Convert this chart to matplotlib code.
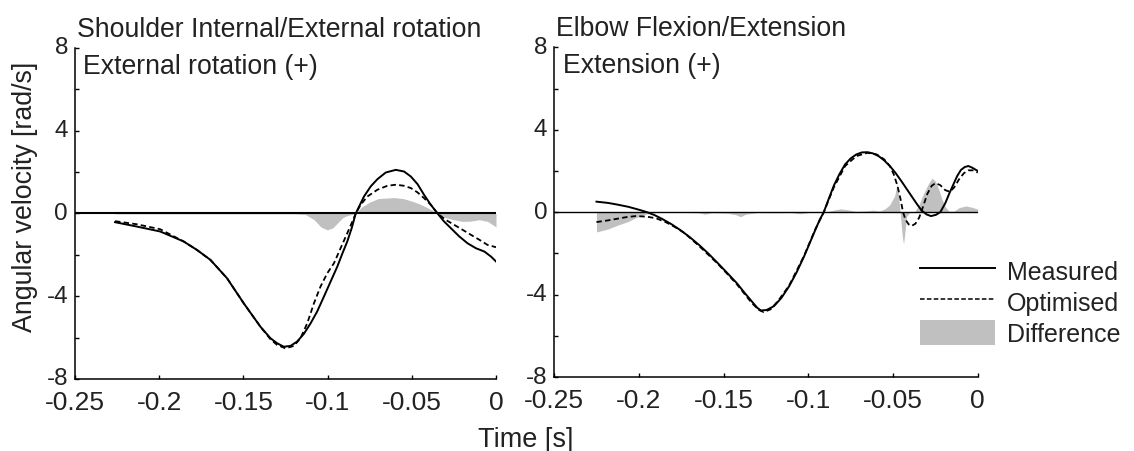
import matplotlib
matplotlib.use("Agg")
import matplotlib.pyplot as plt
from matplotlib.lines import Line2D
from matplotlib.patches import Patch
from matplotlib.transforms import ScaledTranslation

plt.rcParams['font.family'] = ['Liberation Sans', 'DejaVu Sans']
plt.rcParams['axes.unicode_minus'] = False

TXT = '#222222'
GREY = '#c0c0c0'

# Shoulder internal/external rotation (left panel)
sh_meas_t = [-0.2262, -0.2133, -0.1994, -0.1855, -0.1776, -0.1696, -0.1597, -0.1498, -0.1399,
             -0.1339, -0.1300, -0.1260, -0.1220, -0.1181, -0.1141, -0.1101, -0.1062, -0.1022,
             -0.0982, -0.0942, -0.0913, -0.0883, -0.0857, -0.0833, -0.0808, -0.0784, -0.0744,
             -0.0704, -0.0655, -0.0595, -0.0546, -0.0506, -0.0466, -0.0427, -0.0387, -0.0347,
             -0.0308, -0.0268, -0.0218, -0.0169, -0.0119, -0.0069, -0.0030, 0.0]
sh_meas_v = [-0.42, -0.63, -0.87, -1.35, -1.76, -2.24, -3.13, -4.34, -5.47,
             -6.03, -6.27, -6.44, -6.40, -6.19, -5.82, -5.31, -4.74, -4.02,
             -3.29, -2.56, -1.95, -1.35, -0.71, 0.00, 0.42, 0.82, 1.31,
             1.66, 1.98, 2.11, 2.03, 1.79, 1.42, 0.90, 0.42, 0.00,
             -0.39, -0.71, -1.11, -1.44, -1.68, -1.84, -2.08, -2.32]

sh_opt_t = [-0.2262, -0.2133, -0.1994, -0.1855, -0.1776, -0.1696, -0.1597, -0.1498, -0.1399,
            -0.1339, -0.1300, -0.1250, -0.1200, -0.1161, -0.1121, -0.1081, -0.1042, -0.1002,
            -0.0962, -0.0923, -0.0883, -0.0853, -0.0833, -0.0804, -0.0764, -0.0704, -0.0645,
            -0.0595, -0.0546, -0.0506, -0.0466, -0.0427, -0.0387, -0.0347, -0.0298, -0.0248,
            -0.0198, -0.0149, -0.0099, -0.0050, 0.0]
sh_opt_v = [-0.37, -0.52, -0.76, -1.35, -1.76, -2.24, -3.13, -4.34, -5.47,
            -6.08, -6.35, -6.52, -6.40, -6.03, -5.31, -4.34, -3.53, -2.89,
            -2.40, -1.68, -0.95, -0.39, 0.00, 0.42, 0.82, 1.15, 1.34,
            1.39, 1.34, 1.23, 1.02, 0.74, 0.42, 0.00, -0.31, -0.55,
            -0.79, -1.03, -1.27, -1.52, -1.63]

sh_diff_t = [-0.2262, -0.1500, -0.1200, -0.1131, -0.1080, -0.1040, -0.1002, -0.0970, -0.0940,
             -0.0910, -0.0883, -0.0833, -0.0800, -0.0750, -0.0700, -0.0605, -0.0550, -0.0500,
             -0.0450, -0.0400, -0.0347, -0.0300, -0.0250, -0.0200, -0.0150, -0.0100, -0.0050, 0.0]
sh_diff_v = [-0.02, -0.02, -0.02, -0.05, -0.30, -0.65, -0.79, -0.70, -0.45,
             -0.20, -0.10, 0.00, 0.30, 0.55, 0.72, 0.77, 0.72, 0.60,
             0.45, 0.25, 0.00, -0.20, -0.30, -0.38, -0.37, -0.30, -0.38, -0.65]

# Elbow flexion/extension (right panel)
el_meas_t = [-0.2251, -0.2184, -0.2129, -0.2063, -0.1997, -0.1953, -0.1909, -0.1865, -0.1809,
             -0.1754, -0.1699, -0.1644, -0.1589, -0.1534, -0.1478, -0.1423, -0.1379, -0.1335,
             -0.1302, -0.1280, -0.1247, -0.1203, -0.1159, -0.1114, -0.1070, -0.1026, -0.0993,
             -0.0960, -0.0933, -0.0909, -0.0880, -0.0850, -0.0817, -0.0783, -0.0750, -0.0717,
             -0.0684, -0.0651, -0.0618, -0.0585, -0.0552, -0.0519, -0.0485, -0.0452, -0.0419,
             -0.0386, -0.0357, -0.0331, -0.0302, -0.0276, -0.0247, -0.0221, -0.0192, -0.0165,
             -0.0143, -0.0121, -0.0099, -0.0077, -0.0055, -0.0033, 0.0]
el_meas_v = [0.51, 0.45, 0.37, 0.26, 0.11, 0.00, -0.14, -0.32, -0.58,
             -0.88, -1.22, -1.60, -2.02, -2.48, -2.96, -3.44, -3.89, -4.32,
             -4.64, -4.77, -4.75, -4.56, -4.16, -3.60, -2.93, -2.16, -1.52,
             -0.88, -0.37, 0.00, 0.64, 1.28, 1.84, 2.32, 2.61, 2.80,
             2.90, 2.91, 2.85, 2.72, 2.51, 2.24, 1.90, 1.52, 1.12,
             0.72, 0.37, 0.08, -0.11, -0.19, -0.13, 0.00, 0.43, 0.96,
             1.36, 1.76, 2.05, 2.19, 2.24, 2.16, 2.00]

el_opt_t = [-0.2251, -0.2184, -0.2129, -0.2074, -0.2019, -0.1953, -0.1898, -0.1843, -0.1788,
            -0.1732, -0.1644, -0.1534, -0.1423, -0.1335, -0.1291, -0.1264, -0.1224, -0.1180,
            -0.1114, -0.1026, -0.0960, -0.0909, -0.0850, -0.0783, -0.0717, -0.0651, -0.0596,
            -0.0552, -0.0519, -0.0496, -0.0474, -0.0456, -0.0441, -0.0426, -0.0408, -0.0391,
            -0.0368, -0.0346, -0.0324, -0.0298, -0.0272, -0.0249, -0.0221, -0.0192, -0.0165,
            -0.0139, -0.0110, -0.0082, -0.0055, -0.0029, 0.0]
el_opt_v = [-0.48, -0.40, -0.32, -0.24, -0.19, -0.22, -0.30, -0.48, -0.72,
            -1.01, -1.65, -2.51, -3.49, -4.40, -4.75, -4.85, -4.72, -4.32,
            -3.57, -2.13, -0.85, 0.00, 1.20, 2.24, 2.72, 2.88, 2.80,
            2.56, 2.24, 1.84, 1.28, 0.64, 0.00, -0.37, -0.59, -0.67,
            -0.56, -0.27, 0.24, 0.88, 1.28, 1.41, 1.31, 1.07, 0.99,
            1.20, 1.60, 1.89, 2.03, 2.03, 1.92]

el_diff_t = [-0.2251, -0.2184, -0.2129, -0.2063, -0.2019, -0.1953, -0.1900, -0.1800, -0.1650,
             -0.1610, -0.1570, -0.1480, -0.1430, -0.1400, -0.1370, -0.1300, -0.1200, -0.1100,
             -0.1050, -0.1000, -0.0900, -0.0850, -0.0810, -0.0770, -0.0720, -0.0660, -0.0620,
             -0.0580, -0.0550, -0.0520, -0.0490, -0.0475, -0.0465, -0.0455, -0.0445, -0.0438,
             -0.0430, -0.0420, -0.0400, -0.0370, -0.0350, -0.0320, -0.0290, -0.0270, -0.0250,
             -0.0230, -0.0210, -0.0190, -0.0170, -0.0140, -0.0110, -0.0070, -0.0040, 0.0]
el_diff_v = [-0.96, -0.82, -0.64, -0.45, -0.27, -0.08, -0.02, 0.00, -0.03,
             -0.10, -0.03, -0.05, -0.12, -0.22, -0.10, -0.02, -0.03, -0.02,
             -0.08, -0.02, 0.00, 0.10, 0.16, 0.12, 0.04, 0.06, 0.10,
             0.06, 0.15, 0.35, 0.80, 1.40, 0.60, -0.30, -1.20, -1.55,
             -1.00, -0.20, 0.00, 0.05, 0.30, 0.90, 1.40, 1.65, 1.50,
             1.10, 0.60, 0.25, 0.05, 0.05, 0.22, 0.30, 0.25, 0.15]

x_ticks = [-0.25, -0.2, -0.15, -0.1, -0.05, 0]
x_labels = ['-0.25', '-0.2', '-0.15', '-0.1', '-0.05', '0']
y_ticks = [-8, -6, -4, -2, 0, 2, 4, 6, 8]
y_labels = ['-8', '', '-4', '', '0', '', '4', '', '8']

fig = plt.figure(figsize=(11.34, 4.52), dpi=100)
ax1 = fig.add_axes([0.0661, 0.1593, 0.3713, 0.7323])
ax2 = fig.add_axes([0.4888, 0.1637, 0.3734, 0.7294])

panels = [
    (ax1, sh_meas_t, sh_meas_v, sh_opt_t, sh_opt_v, sh_diff_t, sh_diff_v,
     'Shoulder Internal/External rotation', 'External rotation (+)', 1.5),
    (ax2, el_meas_t, el_meas_v, el_opt_t, el_opt_v, el_diff_t, el_diff_v,
     'Elbow Flexion/Extension', 'Extension (+)', 1.0),
]

# y tick labels sit a little above their ticks in the original
lift = ScaledTranslation(0, 3 / 100, fig.dpi_scale_trans)

for ax, mt, mv, ot, ov, dt, dv, title, sub, zlw in panels:
    ax.fill_between(dt, 0, dv, color=GREY, linewidth=0, zorder=1)
    ax.axhline(0, color='black', lw=zlw, zorder=2)
    ax.plot(mt, mv, color='black', lw=1.4, zorder=3)
    ax.plot(ot, ov, color='black', lw=1.3, linestyle=(0, (3, 1.8)), zorder=4)
    ax.set_xlim(-0.25, 0)
    ax.set_ylim(-8, 8)
    ax.set_xticks(x_ticks)
    ax.set_xticklabels(x_labels)
    ax.set_yticks(y_ticks)
    ax.set_yticklabels(y_labels)
    ax.spines['top'].set_visible(False)
    ax.spines['right'].set_visible(False)
    for s in ['left', 'bottom']:
        ax.spines[s].set_linewidth(1.1)
    ax.tick_params(axis='both', direction='in', length=3, width=1, colors='black')
    ax.tick_params(axis='x', labelsize=19, pad=8, labelcolor=TXT)
    ax.tick_params(axis='y', labelsize=17.5, pad=5, labelcolor=TXT)
    for lab in ax.get_yticklabels():
        lab.set_transform(lab.get_transform() + lift)
    ax.text(0.004, 1.037, title, transform=ax.transAxes, fontsize=19.2, color=TXT,
            ha='left', va='baseline')
    ax.text(0.02, 0.925, sub, transform=ax.transAxes, fontsize=19.2, color=TXT,
            ha='left', va='baseline')

fig.text(0.022, 0.564, 'Angular velocity [rad/s]', rotation=90, fontsize=19.3,
         color=TXT, ha='center', va='center')
fig.text(0.464, 0.027, 'Time [s]', fontsize=19.5, color=TXT, ha='center', va='center')

handles = [Line2D([], [], color='black', lw=1.4),
           Line2D([], [], color='black', lw=1.1, linestyle=(0, (3, 1.5))),
           Patch(facecolor=GREY, edgecolor='none')]
fig.legend(handles, ['Measured', 'Optimised', 'Difference'], loc='upper left',
           bbox_to_anchor=(0.811, 0.427), frameon=False, fontsize=18,
           handlelength=3.0, handleheight=1.15, handletextpad=0.5,
           labelspacing=0.2, borderpad=0, borderaxespad=0, labelcolor=TXT)

fig.savefig('out.png', dpi=100)
